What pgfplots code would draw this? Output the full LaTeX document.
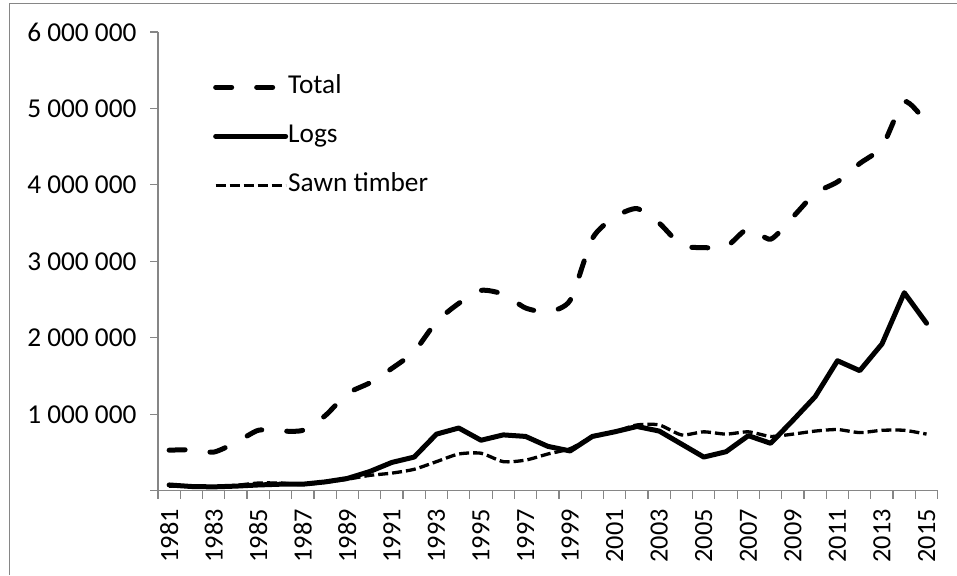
\documentclass[border=0pt]{standalone}
\usepackage{pgfplots}
\pgfplotsset{compat=1.18}
\usepackage{fontspec}
\setmainfont{Carlito}
\definecolor{axgray}{HTML}{868686}
\begin{document}
\begin{tikzpicture}
\path[use as bounding box] (-158pt,-84.3pt) rectangle (799pt,490.7pt);
\draw[axgray, line width=1.2pt] (-148.5pt,-84.3pt) -- (-148.5pt,487.2pt) -- (799pt,487.2pt);
\begin{axis}[
  at={(0pt,0pt)}, anchor=south west,
  scale only axis, width=779.7pt, height=458.7pt,
  xmin=1980.5, xmax=2015.5, ymin=0, ymax=6000000,
  scaled y ticks=false,
  axis x line*=bottom, axis y line*=left,
  axis line style={axgray, line width=1.2pt},
  every tick/.style={axgray, line width=1.2pt},
  tick align=outside, major tick length=8pt,
  font=\fontsize{27.3}{32}\selectfont,
  ytick={0,1000000,2000000,3000000,4000000,5000000,6000000},
  yticklabels={,1 000 000,2 000 000,3 000 000,4 000 000,5 000 000,6 000 000},
  yticklabel style={xshift=-10pt},
  xtick={1980.5,1981.5,...,2015.5},
  xticklabels={},
  extra x ticks={1981,1983,1985,1987,1989,1991,1993,1995,1997,1999,2001,2003,2005,2007,2009,2011,2013,2015},
  extra x tick labels={1981,1983,1985,1987,1989,1991,1993,1995,1997,1999,2001,2003,2005,2007,2009,2011,2013,2015},
  extra x tick style={major tick length=0pt, xticklabel style={rotate=90, anchor=east, xshift=-15pt, font=\fontsize{26.3}{30}\selectfont}},
  clip=false,
  legend cell align=left,
  legend style={at={(axis description cs:0.0705,0.906)}, anchor=north west, draw=none, fill=none,
    inner sep=0pt, row sep=25pt, nodes={inner sep=0pt, text height=18pt, text depth=6pt, font=\fontsize{27.3}{32}\selectfont},
    /tikz/every even column/.append style={column sep=7pt}},
  legend image code/.code={\draw[#1] (0pt,0pt) -- (70pt,0pt);},
]
\addplot[black, line width=5pt, line cap=round, dash pattern=on 16pt off 25pt, smooth, tension=0.4] coordinates {
(1981,530000) (1982,535000) (1983,505000) (1984,630000) (1985,790000) (1986,780000) (1987,790000) (1988,980000)
(1989,1270000) (1990,1410000) (1991,1600000) (1992,1820000) (1993,2210000) (1994,2450000) (1995,2620000)
(1996,2570000) (1997,2390000) (1998,2340000) (1999,2490000) (2000,3300000) (2001,3580000) (2002,3690000)
(2003,3500000) (2004,3210000) (2005,3180000) (2006,3190000) (2007,3430000) (2008,3290000) (2009,3580000)
(2010,3890000) (2011,4040000) (2012,4280000) (2013,4500000) (2014,5090000) (2015,4810000)};
\addlegendentry{Total}
\addplot[black, line width=5pt, line join=round, line cap=round] coordinates {
(1981,75000) (1982,55000) (1983,50000) (1984,60000) (1985,75000) (1986,85000) (1987,85000) (1988,115000)
(1989,160000) (1990,250000) (1991,370000) (1992,440000) (1993,740000) (1994,820000) (1995,660000)
(1996,730000) (1997,710000) (1998,580000) (1999,520000) (2000,710000) (2001,770000) (2002,840000)
(2003,780000) (2004,610000) (2005,440000) (2006,510000) (2007,720000) (2008,620000) (2009,920000)
(2010,1230000) (2011,1700000) (2012,1570000) (2013,1920000) (2014,2590000) (2015,2190000)};
\addlegendentry{Logs}
\addplot[black, line width=3.3pt, dash pattern=on 10pt off 4pt, smooth, tension=0.4] coordinates {
(1981,60000) (1982,60000) (1983,50000) (1984,70000) (1985,100000) (1986,100000) (1987,80000) (1988,110000)
(1989,150000) (1990,200000) (1991,230000) (1992,280000) (1993,380000) (1994,480000) (1995,490000)
(1996,380000) (1997,400000) (1998,480000) (1999,550000) (2000,700000) (2001,770000) (2002,860000)
(2003,860000) (2004,730000) (2005,770000) (2006,740000) (2007,770000) (2008,710000) (2009,740000)
(2010,780000) (2011,800000) (2012,760000) (2013,790000) (2014,790000) (2015,740000)};
\addlegendentry{Sawn timber}
\end{axis}
\end{tikzpicture}
\end{document}
